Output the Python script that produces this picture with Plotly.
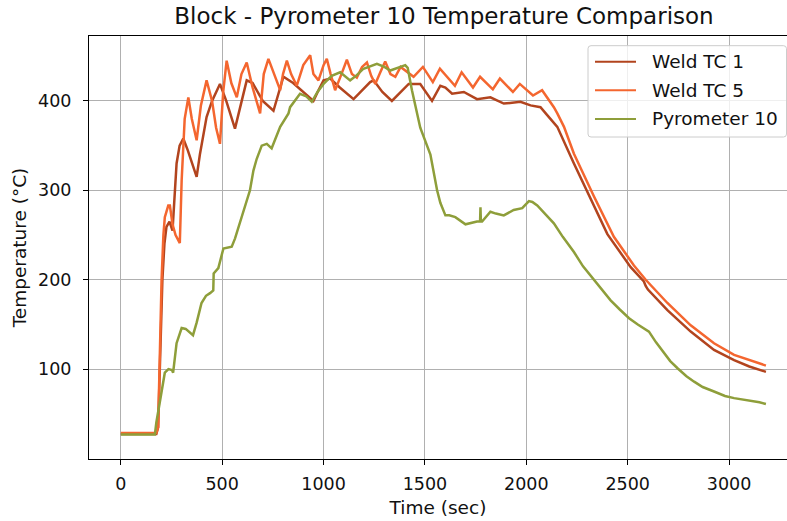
import plotly.graph_objects as go

# ---- measured series -------------------------------------------------------
weld_tc1_time = [0, 175, 184, 195, 205, 215, 225, 240, 255, 275, 290, 308, 330, 374,
                 390, 423, 450, 489, 520, 563, 590, 621, 650, 700, 753, 780, 802,
                 850, 900, 950, 975, 1000, 1033, 1080, 1148, 1190, 1230, 1247, 1290,
                 1337, 1380, 1420, 1477, 1535, 1576, 1601, 1634, 1692, 1757, 1823,
                 1889, 1971, 2021, 2070, 2100, 2136, 2153, 2235, 2334, 2400, 2515,
                 2560, 2580, 2589, 2600, 2696, 2811, 2926, 3025, 3100, 3182]
weld_tc1_temp = [27.5, 27.5, 35, 130, 200, 240, 259, 265, 255, 330, 350, 358, 345, 315,
                 340, 382, 400, 419, 400, 369, 395, 423, 420, 400, 389, 410, 427,
                 420, 410, 400, 412, 423, 425, 415, 402, 412, 421, 423, 410,
                 400, 410, 419, 419, 400, 417, 415, 408, 410, 402, 404,
                 397, 399, 395, 393, 385, 375, 371, 330, 283, 251, 214,
                 203, 198, 193, 189, 166, 142, 121.5, 110, 103, 97]

weld_tc5_time = [0, 175, 184, 192, 201, 210, 217, 234, 242, 255, 270, 291, 300, 315,
                 333, 350, 374, 395, 423, 450, 470, 489, 505, 522, 545, 572, 595,
                 621, 650, 687, 705, 728, 755, 786, 800, 819, 840, 868, 900, 934,
                 950, 975, 1000, 1016, 1035, 1057, 1085, 1115, 1140, 1164, 1190,
                 1214, 1235, 1255, 1280, 1304, 1330, 1354, 1380, 1403, 1444, 1490,
                 1539, 1574, 1648, 1681, 1737, 1772, 1835, 1870, 1934, 1968, 2033,
                 2078, 2100, 2136, 2153, 2186, 2235, 2301, 2334, 2432, 2531, 2589,
                 2696, 2811, 2926, 3025, 3100, 3182]
weld_tc5_temp = [28.5, 28.5, 35, 120, 200, 250, 270, 283, 283, 262, 250, 241, 311, 380,
                 404, 380, 356, 395, 423, 400, 370, 352, 410, 445, 420, 404, 430,
                 443, 415, 386, 430, 447, 430, 412, 430, 445, 430, 417, 440, 451,
                 430, 423, 440, 447, 430, 412, 428, 446, 430, 426, 438,
                 443, 428, 419, 432, 444, 430, 427, 438, 434, 427, 438,
                 421, 436, 417, 432, 415, 427, 413, 425, 410, 419, 406,
                 412, 405, 393, 386, 371, 341, 308, 293, 248, 216, 200,
                 174, 149, 129, 116, 110, 104]

pyro10_time = [0, 168, 175, 193, 217, 235, 252, 258, 275, 300, 320, 356, 374, 398,
               420, 440, 456, 458, 481, 506, 547, 563, 571, 600, 620, 637, 654, 670,
               695, 720, 744, 786, 827, 835, 884, 915, 942, 970, 1000, 1040, 1082,
               1131, 1160, 1197, 1263, 1300, 1329, 1370, 1403, 1415, 1436, 1477,
               1527, 1560, 1576, 1601, 1620, 1650, 1700, 1757, 1772, 1774, 1776,
               1782, 1823, 1850, 1889, 1938, 1980, 2013, 2030, 2054, 2100, 2136,
               2180, 2235, 2280, 2334, 2380, 2416, 2460, 2507, 2550, 2581, 2605,
               2640, 2679, 2710, 2746, 2790, 2828, 2870, 2926, 2980, 3025, 3070,
               3108, 3150, 3182]
pyro10_temp = [27, 27, 40, 66, 96, 100, 99, 96, 129, 146, 145, 138, 152, 174,
               182, 185, 188, 207, 213, 235, 237, 246, 252, 275, 289, 300, 322, 335,
               350, 352, 347, 371, 386, 393, 408, 405, 399, 410, 419, 428, 432,
               423, 428, 436, 441.5, 438, 434, 437, 440, 437, 412, 370,
               340, 300, 286, 272, 272, 270, 262, 265, 265, 281, 265,
               265, 276, 274, 272, 278, 280, 288, 287, 283, 272, 263,
               248, 231, 215, 200, 187, 177, 167, 157, 150, 146, 142,
               130, 118, 109, 101, 92, 86, 80, 75, 70, 67.6, 66,
               65, 63, 61]

series_names = ["Weld TC 1", "Weld TC 5", "Pyrometer 10"]
series_colors = ["#B2441E", "#F4662F", "#8E9E3A"]
x_ticks = [0, 500, 1000, 1500, 2000, 2500, 3000]
y_ticks = [100, 200, 300, 400]

# ---- page geometry ---------------------------------------------------------
W, H = 787, 521
M_L, M_R, M_T, M_B = 89, 0, 36, 62
PW = W - M_L - M_R
PH = H - M_T - M_B
FS = 18.5


def px_x(p):
    return (p - M_L) / PW


def px_y(p):
    return (H - M_B - p) / PH


fig = go.Figure()
data = [(weld_tc1_time, weld_tc1_temp), (weld_tc5_time, weld_tc5_temp),
        (pyro10_time, pyro10_temp)]
for (t, v), name, color in zip(data, series_names, series_colors):
    fig.add_trace(go.Scatter(x=t, y=v, mode="lines", name=name,
                             line=dict(color=color, width=2.5),
                             showlegend=False))

axis_common = dict(
    showgrid=True, gridcolor="#b0b0b0", gridwidth=1,
    showline=True, linecolor="black", linewidth=1.1,
    ticks="outside", ticklen=5, tickwidth=1.1, tickcolor="black",
    zeroline=False, tickfont=dict(size=17.5, color="#111"),
)

fig.update_layout(
    width=W, height=H,
    margin=dict(l=M_L, r=M_R, t=M_T, b=M_B),
    paper_bgcolor="white", plot_bgcolor="white",
    font=dict(family="DejaVu Sans", size=FS, color="#111"),
    title=dict(text="Block - Pyrometer 10 Temperature Comparison",
               x=444 / W, xref="container", xanchor="center",
               y=1 - 16 / H, yref="container", yanchor="middle",
               font=dict(size=23, color="#111")),
    xaxis=dict(range=[-157, 3286], tickvals=x_ticks, mirror=True,
               ticklabelstandoff=4,
               title=dict(text="Time (sec)", standoff=8, font=dict(size=FS)),
               **axis_common),
    yaxis=dict(range=[-0.5, 472.6], tickvals=y_ticks, mirror=False,
               ticklabelstandoff=8,
               title=dict(text="Temperature (°C)", standoff=6, font=dict(size=FS)),
               **axis_common),
)

# ---- legend box ------------------------------------------------------------
bx0, bx1, by0, by1, r = 588, 786.5, 45.7, 137, 3
rx, ry = r / PW, r / PH
X0, X1, Y0, Y1 = px_x(bx0), px_x(bx1), px_y(by1), px_y(by0)
path = (f"M{X0 + rx},{Y0} L{X1 - rx},{Y0} Q{X1},{Y0} {X1},{Y0 + ry} "
        f"L{X1},{Y1 - ry} Q{X1},{Y1} {X1 - rx},{Y1} L{X0 + rx},{Y1} "
        f"Q{X0},{Y1} {X0},{Y1 - ry} L{X0},{Y0 + ry} Q{X0},{Y0} {X0 + rx},{Y0} Z")
fig.add_shape(type="path", path=path, xref="paper", yref="paper",
              fillcolor="rgba(255,255,255,0.8)", line=dict(color="#cccccc", width=1),
              layer="above")

rows = [61.7, 90.3, 119]
for name, color, row in zip(series_names, series_colors, rows):
    fig.add_shape(type="line", xref="paper", yref="paper",
                  x0=px_x(595), x1=px_x(636), y0=px_y(row), y1=px_y(row),
                  line=dict(color=color, width=2.1), layer="above")
    fig.add_annotation(text=name, xref="paper", yref="paper",
                       x=px_x(650), y=px_y(row), xanchor="left", yanchor="middle",
                       showarrow=False, font=dict(size=FS, color="#111"))

fig.write_html("out.html")
